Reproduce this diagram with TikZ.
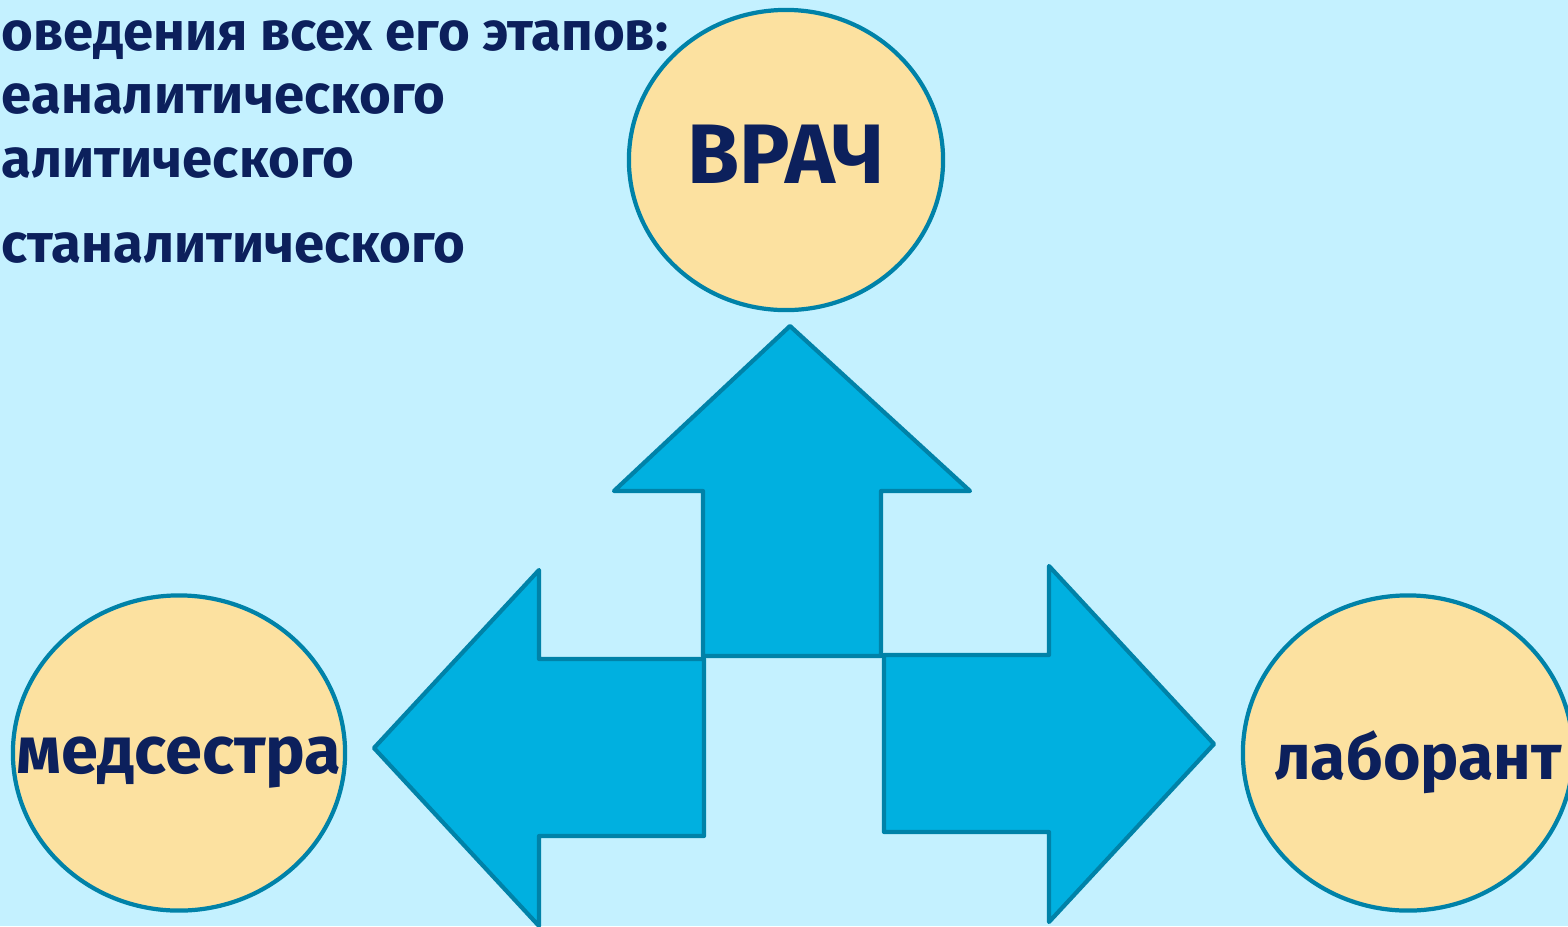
\documentclass[tikz,border=0pt]{standalone}
\usepackage{fontspec}
\setmainfont{Fira Sans}
\usetikzlibrary{shapes.geometric}

\definecolor{bgcyan}{RGB}{196,241,255}
\definecolor{rolefill}{RGB}{252,225,160}
\definecolor{edgeteal}{RGB}{0,130,168}
\definecolor{arrowblue}{RGB}{0,176,224}
\definecolor{inknavy}{RGB}{12,32,92}

\begin{document}
\begin{tikzpicture}[x=0.01cm,y=-0.01cm,
  role/.style={ellipse,draw=edgeteal,fill=rolefill,line width=1.2pt,inner sep=0pt},
  rolename/.style={inner sep=0pt,text=inknavy,font=\bfseries\fontsize{#1}{24}\selectfont},
  bigarrow/.style={draw=edgeteal,fill=arrowblue,line width=1.2pt,line join=round},
  stage/.style={anchor=base west,inner sep=0pt,text=inknavy,font=\bfseries\fontsize{15.5}{18}\selectfont}]
\useasboundingbox (0,0) rectangle (1568,926);
\fill[bgcyan] (0,0) rectangle (1568,926);

% Stages of the analysis
\node[stage] (line1) at (1,50) {оведения всех его этапов:};
\node[stage] (line2) at (1,113) {еаналитического};
\node[stage] (line3) at (1,177) {алитического};
\node[stage] (line4) at (1,262) {станалитического};

% Participants
\node[role,minimum width=3.14cm,minimum height=3.0cm] (doctor) at (786,160) {};
\node[role,minimum width=3.32cm,minimum height=3.15cm] (nurse) at (179,753) {};
\node[role,minimum width=3.30cm,minimum height=3.15cm] (labtech) at (1408,753) {};
\node[rolename=24,yshift=0.06cm] (doctorname) at (doctor) {ВРАЧ};
\node[rolename=19,yshift=-0.1cm] (nursename) at (nurse) {медсестра};
\node[rolename=18.3,xshift=0.1cm,yshift=-0.09cm] (labtechname) at (labtech) {лаборант};

% Block arrows
\draw[bigarrow] (790,326) -- (970,491) -- (881,491) -- (881,656) -- (703,656)
  -- (703,491) -- (614,491) -- cycle;
\draw[bigarrow] (374,748) -- (539,570) -- (539,659) -- (704,659) -- (704,836)
  -- (539,836) -- (539,926) -- cycle;
\draw[bigarrow] (1214,744) -- (1049,566) -- (1049,655) -- (884,655) -- (884,832)
  -- (1049,832) -- (1049,922) -- cycle;
\end{tikzpicture}
\end{document}
